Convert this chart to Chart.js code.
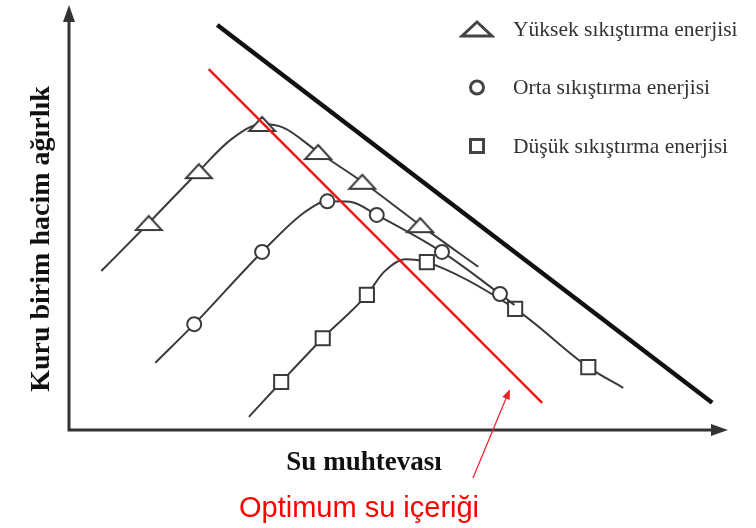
<!DOCTYPE html>
<html>
<head>
<meta charset="utf-8">
<script src="https://cdn.jsdelivr.net/npm/chart.js@4.4.1/dist/chart.umd.min.js"></script>
<style>
  html, body { margin: 0; padding: 0; background: #fff; }
</style>
</head>
<body>
<canvas id="proctor" width="756" height="528"></canvas>
<script>
// Compaction curves, schematic units (0-100) on both axes
const seriesLabels = ['Yüksek sıkıştırma enerjisi', 'Orta sıkıştırma enerjisi', 'Düşük sıkıştırma enerjisi'];

// high energy (triangles)
const highW = [4.9, 12.1, 19.7, 24.7, 29.3, 32.6, 37.8, 44.5, 53.3, 62.1];
const highG = [37.4, 48.7, 60.9, 68.5, 72.0, 71.1, 65.4, 58.4, 48.2, 38.4];
const highMark = [0, 1, 1, 0, 1, 0, 1, 1, 1, 0];

// medium energy (circles)
const midW = [13.1, 19.0, 29.3, 35.8, 39.2, 42.6, 46.7, 56.6, 65.4, 67.6];
const midG = [15.8, 24.9, 41.9, 51.3, 53.8, 53.7, 50.6, 41.9, 32.0, 29.4];
const midMark = [0, 1, 1, 0, 1, 0, 1, 1, 1, 0];

// low energy (squares)
const lowW = [27.3, 32.2, 38.5, 45.2, 47.8, 51.0, 54.3, 67.7, 78.8, 84.1];
const lowG = [3.1, 11.3, 21.6, 31.8, 37.2, 40.2, 39.5, 28.5, 14.8, 9.9];
const lowMark = [0, 1, 1, 1, 0, 0, 1, 1, 1, 0];

// zero air voids line and line of optimums
const zavW = [22.5, 97.6];
const zavG = [95.3, 6.4];
const optW = [21.2, 71.8];
const optG = [84.9, 6.4];

// pointer from the note to the optimum line
const arrowW = [61.3, 66.9];
const arrowG = [-11.3, 9.6];

const ink = '#3a3a3a';

const pts = (w, g) => w.map((v, i) => ({ x: v, y: g[i] }));

function triangleSprite(w, h, lw, color) {
  const c = document.createElement('canvas');
  c.width = w + lw * 2;
  c.height = h + lw * 2;
  const g = c.getContext('2d');
  g.lineWidth = lw;
  g.strokeStyle = color;
  g.fillStyle = '#fff';
  g.beginPath();
  g.moveTo(lw + w / 2, lw);
  g.lineTo(lw + w, lw + h);
  g.lineTo(lw, lw + h);
  g.closePath();
  g.fill();
  g.stroke();
  return c;
}

const triMarker = triangleSprite(26, 14, 2, ink);
const triLegend = triangleSprite(30, 14, 3, '#444');

function curve(label, w, g, mark, style, radius) {
  return {
    label: label,
    data: pts(w, g),
    showLine: true,
    borderColor: ink,
    borderWidth: 2,
    cubicInterpolationMode: 'monotone',
    pointStyle: style,
    pointRadius: ctx => mark[ctx.dataIndex] ? radius : 0,
    pointBorderColor: ink,
    pointBorderWidth: 2,
    pointBackgroundColor: '#fff',
    legendStyle: style === triMarker ? 'tri' : style,
    order: 2
  };
}

const frame = {
  id: 'frame',
  afterDatasetsDraw(chart) {
    const { ctx, chartArea: a, scales: { x, y } } = chart;
    ctx.save();

    // axes with arrow heads
    ctx.strokeStyle = '#333';
    ctx.fillStyle = '#333';
    ctx.lineWidth = 3;
    ctx.beginPath();
    ctx.moveTo(a.left, a.top + 12);
    ctx.lineTo(a.left, a.bottom);
    ctx.lineTo(a.right - 12, a.bottom);
    ctx.stroke();
    ctx.beginPath();
    ctx.moveTo(a.left, a.top);
    ctx.lineTo(a.left - 6, a.top + 17);
    ctx.lineTo(a.left + 6, a.top + 17);
    ctx.closePath();
    ctx.fill();
    ctx.beginPath();
    ctx.moveTo(a.right, a.bottom);
    ctx.lineTo(a.right - 17, a.bottom - 6);
    ctx.lineTo(a.right - 17, a.bottom + 6);
    ctx.closePath();
    ctx.fill();

    // axis titles
    ctx.fillStyle = '#111';
    ctx.textAlign = 'center';
    ctx.textBaseline = 'alphabetic';
    ctx.font = 'bold 27px "Liberation Serif"';
    ctx.fillText('Su muhtevası', 364, 470);
    ctx.save();
    ctx.translate(49, 239);
    ctx.rotate(-Math.PI / 2);
    ctx.font = 'bold 28px "Liberation Serif"';
    ctx.fillText('Kuru birim hacim ağırlık', 0, 0);
    ctx.restore();

    // legend
    ctx.font = '21.5px "Liberation Serif"';
    ctx.textAlign = 'left';
    ctx.textBaseline = 'middle';
    ctx.strokeStyle = '#444';
    ctx.lineWidth = 3;
    chart.data.datasets.filter(d => d.legendStyle).forEach((d, i) => {
      const cy = 29 + i * 58.5;
      const cx = 477;
      if (d.legendStyle === 'tri') {
        ctx.drawImage(triLegend, cx - triLegend.width / 2, cy - triLegend.height / 2);
      } else if (d.legendStyle === 'circle') {
        ctx.beginPath();
        ctx.arc(cx, cy, 6.5, 0, Math.PI * 2);
        ctx.stroke();
      } else {
        ctx.strokeRect(cx - 6.5, cy - 6.5, 13, 13);
      }
      ctx.fillStyle = '#333';
      ctx.fillText(d.label, 513, cy + 1);
    });

    // note pointing at the optimum line
    const x0 = x.getPixelForValue(arrowW[0]), y0 = y.getPixelForValue(arrowG[0]);
    const x1 = x.getPixelForValue(arrowW[1]), y1 = y.getPixelForValue(arrowG[1]);
    const ang = Math.atan2(y1 - y0, x1 - x0);
    ctx.strokeStyle = '#e8212a';
    ctx.fillStyle = '#e8212a';
    ctx.lineWidth = 1.2;
    ctx.beginPath();
    ctx.moveTo(x0, y0);
    ctx.lineTo(x1 - 8 * Math.cos(ang), y1 - 8 * Math.sin(ang));
    ctx.stroke();
    ctx.beginPath();
    ctx.moveTo(x1, y1);
    ctx.lineTo(x1 - 10 * Math.cos(ang) + 4 * Math.sin(ang), y1 - 10 * Math.sin(ang) - 4 * Math.cos(ang));
    ctx.lineTo(x1 - 10 * Math.cos(ang) - 4 * Math.sin(ang), y1 - 10 * Math.sin(ang) + 4 * Math.cos(ang));
    ctx.closePath();
    ctx.fill();

    ctx.fillStyle = '#ff0000';
    ctx.font = '29px "Liberation Sans"';
    ctx.textAlign = 'center';
    ctx.textBaseline = 'alphabetic';
    ctx.fillText('Optimum su içeriği', 359, 517);

    ctx.restore();
  }
};

new Chart(document.getElementById('proctor'), {
  type: 'scatter',
  data: {
    datasets: [
      {
        data: pts(optW, optG),
        showLine: true,
        borderColor: '#e81a1a',
        borderWidth: 2.5,
        pointRadius: 0,
        order: 1
      },
      curve(seriesLabels[0], highW, highG, highMark, triMarker, 8),
      curve(seriesLabels[1], midW, midG, midMark, 'circle', 7),
      curve(seriesLabels[2], lowW, lowG, lowMark, 'rect', 10),
      {
        data: pts(zavW, zavG),
        showLine: true,
        borderColor: '#111',
        borderWidth: 4.5,
        pointRadius: 0,
        order: 3
      }
    ]
  },
  options: {
    responsive: false,
    animation: false,
    events: [],
    layout: { padding: { left: 69, top: 5, right: 28, bottom: 98 } },
    scales: {
      x: { type: 'linear', min: 0, max: 100, display: false },
      y: { type: 'linear', min: 0, max: 100, display: false }
    },
    plugins: {
      legend: { display: false },
      tooltip: { enabled: false }
    }
  },
  plugins: [frame]
});
</script>
</body>
</html>
